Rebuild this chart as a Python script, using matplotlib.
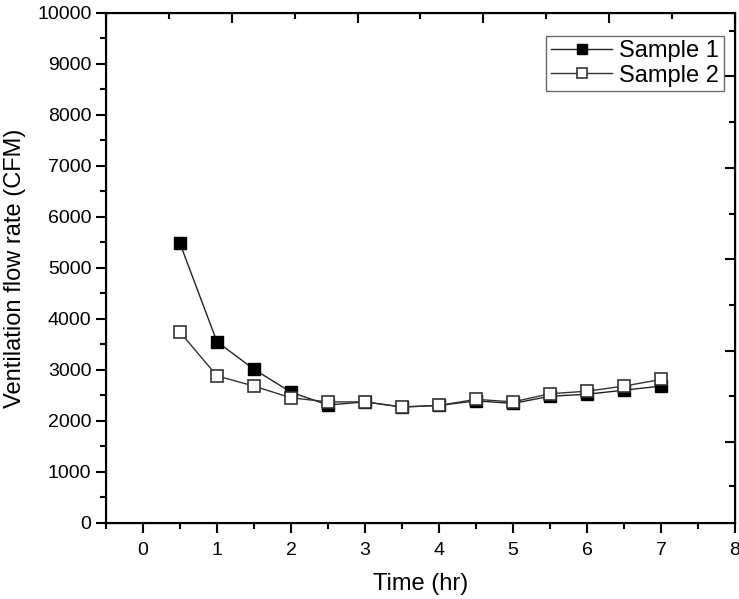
import matplotlib
matplotlib.use("Agg")
import matplotlib.pyplot as plt
import numpy as np
from matplotlib.ticker import MultipleLocator, NullFormatter

plt.rcParams['font.family'] = ['Liberation Sans', 'DejaVu Sans']

# data
time_hr = [0.5, 1.0, 1.5, 2.0, 2.5, 3.0, 3.5, 4.0, 4.5, 5.0, 5.5, 6.0, 6.5, 7.0]
sample1 = [5480, 3550, 3010, 2560, 2310, 2370, 2270, 2300, 2390, 2340, 2480, 2520, 2600, 2680]
sample2 = [3740, 2880, 2680, 2450, 2370, 2370, 2270, 2300, 2420, 2370, 2530, 2580, 2680, 2810]

fig = plt.figure(figsize=(7.39, 5.99), dpi=100)
ax = fig.add_axes([0.1434, 0.1274, 0.8512, 0.8509])

ax.plot(time_hr, sample1, '-', color='#222222', lw=1.0, marker='s', ms=8.5,
        mfc='black', mec='black', mew=1.0, label='Sample 1', zorder=3)
ax.plot(time_hr, sample2, '-', color='#333333', lw=1.0, marker='s', ms=8.5,
        mfc='white', mec='#333333', mew=1.2, label='Sample 2', zorder=4)

ax.set_xlim(-0.5, 8)
ax.set_ylim(0, 10000)
ax.xaxis.set_major_locator(MultipleLocator(1))
ax.xaxis.set_minor_locator(MultipleLocator(0.5))
ax.yaxis.set_major_locator(MultipleLocator(1000))
ax.yaxis.set_minor_locator(MultipleLocator(500))
ax.tick_params(which='major', direction='out', length=7, width=1.5, labelsize=14)
ax.tick_params(axis='x', which='major', pad=7)
ax.tick_params(which='minor', direction='out', length=4, width=1.5)
for s in ax.spines.values():
    s.set_linewidth(1.5)

ax.set_xlabel('Time (hr)', fontsize=17, labelpad=10)
ax.set_ylabel('Ventilation flow rate (CFM)', fontsize=17, labelpad=8)

# top axis ticks (independent scale, no labels)
axt = ax.twiny()
axt.set_xlim(0, 10)
axt.xaxis.set_major_locator(MultipleLocator(2))
axt.xaxis.set_minor_locator(MultipleLocator(1))
axt.xaxis.set_major_formatter(NullFormatter())
axt.tick_params(which='major', direction='in', length=7, width=1.5)
axt.tick_params(which='minor', direction='in', length=4, width=1.5)

# right axis ticks (independent scale, no labels)
axr = ax.twinx()
axr.set_ylim(0, 1)
axr.set_yticks([0.158, 0.337, 0.517, 0.696, 0.876])
axr.set_yticks([0.072, 0.248, 0.427, 0.606, 0.786, 0.965], minor=True)
axr.yaxis.set_major_formatter(NullFormatter())
axr.tick_params(which='major', direction='in', length=7, width=1.5)
axr.tick_params(which='minor', direction='in', length=4, width=1.5)

leg = ax.legend(loc='upper right', bbox_to_anchor=(0.99, 0.965), fontsize=17,
                frameon=True, fancybox=False, edgecolor='#444444',
                handlelength=2.6, borderpad=0.2, labelspacing=0.1,
                handletextpad=0.3, borderaxespad=0.2, markerscale=0.8)
leg.get_frame().set_linewidth(1.0)
leg.set_zorder(10)

fig.savefig('out.png', dpi=100, facecolor='white')
